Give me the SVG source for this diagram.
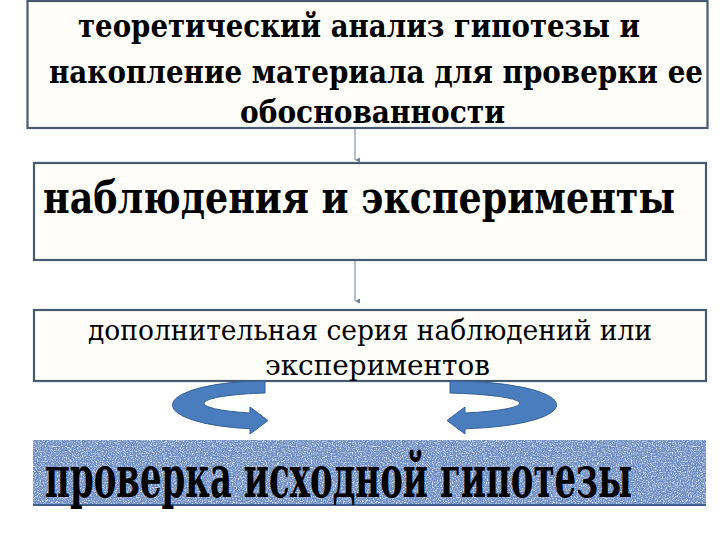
<svg xmlns="http://www.w3.org/2000/svg" width="720" height="540" viewBox="0 0 720 540">
<defs>
<style>
.box{fill:#fffefa;stroke:#465a70;stroke-width:2.2}
.tb{font-family:"DejaVu Serif","Liberation Serif",serif;font-weight:bold;fill:#000}
.tn{font-family:"DejaVu Serif","Liberation Serif",serif;font-weight:normal;fill:#000}
.conn{stroke:#6a7f99;stroke-width:1;fill:none}
.rib{fill:#4a7dbd;stroke:#35609a;stroke-width:1}
</style>
<marker id="ah" viewBox="0 0 6 6" refX="3" refY="6" markerWidth="5" markerHeight="5" orient="auto-start-reverse" markerUnits="userSpaceOnUse">
<path d="M0,0 L6,0 L3,6 Z" fill="#6a7f99"/>
</marker>
<filter id="lite" x="0" y="0" width="100%" height="100%">
<feTurbulence type="fractalNoise" baseFrequency="0.8" numOctaves="2" seed="5"/>
<feColorMatrix type="matrix" values="0 0 0 0 1  0 0 0 0 1  0 0 0 0 1  3.5 0 0 0 -1.45"/>
<feComposite in2="SourceGraphic" operator="in"/>
</filter>
<filter id="dark" x="0" y="0" width="100%" height="100%">
<feTurbulence type="fractalNoise" baseFrequency="0.8" numOctaves="2" seed="11"/>
<feColorMatrix type="matrix" values="0 0 0 0 0.15  0 0 0 0 0.25  0 0 0 0 0.5  3.5 0 0 0 -1.45"/>
<feComposite in2="SourceGraphic" operator="in"/>
</filter>
</defs>
<rect width="720" height="540" fill="#ffffff"/>

<g id="n1">
<rect class="box" x="27.5" y="1" width="680" height="127"/>
<text class="tb" x="78" y="37" font-size="31" textLength="562" lengthAdjust="spacingAndGlyphs">теоретический  анализ гипотезы и</text>
<text class="tb" x="49" y="83" font-size="31" textLength="654" lengthAdjust="spacingAndGlyphs">накопление материала для проверки ее</text>
<text class="tb" x="240" y="123" font-size="31" textLength="265" lengthAdjust="spacingAndGlyphs">обоснованности</text>
</g>

<g id="n2">
<rect class="box" x="34" y="163" width="672" height="97"/>
<text class="tb" x="43" y="213" font-size="44" textLength="632" lengthAdjust="spacingAndGlyphs">наблюдения и эксперименты</text>
</g>

<g id="n3">
<rect class="box" x="34" y="310" width="672" height="71"/>
<text class="tn" x="88" y="340" font-size="27" textLength="564" lengthAdjust="spacingAndGlyphs">дополнительная  серия  наблюдений  или</text>
<text class="tn" x="265" y="375" font-size="27" textLength="225" lengthAdjust="spacingAndGlyphs">экспериментов</text>
</g>

<g id="n4">
<rect x="33" y="440" width="673" height="66" fill="#6b8cc5"/>
<rect x="33" y="440" width="673" height="66" fill="#ffffff" filter="url(#lite)" opacity="0.75"/>
<rect x="33" y="440" width="673" height="66" fill="#ffffff" filter="url(#dark)" opacity="0.65"/>
<line x1="33" y1="505" x2="706" y2="505" stroke="#3e5f8f" stroke-width="2"/>
<text class="tb" x="45" y="497" font-size="58" textLength="587" lengthAdjust="spacingAndGlyphs">проверка  исходной гипотезы</text>
</g>

<g id="connectors">
<line class="conn" x1="355" y1="129" x2="355" y2="160" marker-end="url(#ah)"/>
<line class="conn" x1="355" y1="261" x2="355" y2="301" marker-end="url(#ah)"/>
<path class="rib" d="M265,381 A92,24 0 0 0 250,428.7 L250,434 L268,420.5 L250,407 L250,413 A75,10.5 0 0 1 265,393 Z"/>
<path class="rib" d="M450,381 A105,24 0 0 1 465,428.8 L465,434 L447,420.5 L465,407 L465,413 A88,10.5 0 0 0 450,393 Z"/>
</g>
</svg>
